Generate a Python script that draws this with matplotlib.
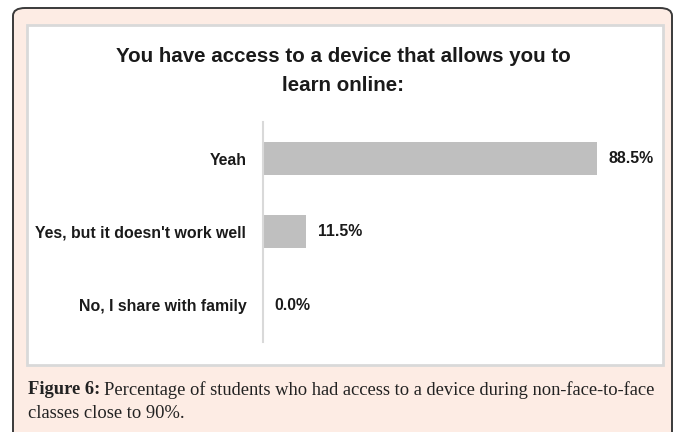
import matplotlib.pyplot as plt
from matplotlib.patches import FancyBboxPatch, Rectangle

categories = ["Yeah", "Yes, but it doesn't work well", "No, I share with family"]
percentages = [88.5, 11.5, 0.0]
value_labels = ["88.5%", "11.5%", "0.0%"]

title = "You have access to a device that allows you to\nlearn online:"
caption_head = "Figure 6:"
caption_line1 = "Percentage of students who had access to a device during non-face-to-face"
caption_line2 = "classes close to 90%."

W, H = 677, 432
fig = plt.figure(figsize=(W / 100, H / 100), dpi=100, facecolor="white")


def fx(px):
    return px / W


def fy(py):
    return 1 - py / H


# outer peach panel with rounded corners (runs off the bottom edge)
panel = FancyBboxPatch((fx(13), fy(470)), fx(672) - fx(13), fy(8) - fy(470),
                       boxstyle="round,pad=0,rounding_size=0.018",
                       transform=fig.transFigure, facecolor="#fdece4",
                       edgecolor="#3a3a3a", linewidth=1.4, zorder=0)
fig.patches.append(panel)

# white chart area
inner = Rectangle((fx(27), fy(365)), fx(663) - fx(27), fy(25) - fy(365),
                  transform=fig.transFigure, facecolor="white",
                  edgecolor="#d9d9d9", linewidth=2, zorder=1)
fig.patches.append(inner)

label_font = ["Liberation Sans", "DejaVu Sans"]
label_size = 11.4

ax = fig.add_axes([fx(263), fy(342), (334 / 88.5 * 100) / W, (342 - 122) / H])
ax.set_zorder(3)
ax.set_facecolor("none")
ypos = range(len(categories))
ax.barh(ypos, percentages, height=0.45, color="#bfbfbf", zorder=2)
ax.set_xlim(0, 100)
ax.set_ylim(2.5, -0.5)
ax.set_yticks(list(ypos))
ax.set_yticklabels(categories, family=label_font, fontweight="bold",
                   fontsize=label_size, color="#1a1a1a")
ax.tick_params(axis="y", length=0, pad=12)
ax.set_xticks([])
for s in ["top", "right", "bottom"]:
    ax.spines[s].set_visible(False)
ax.spines["left"].set_color("#d9d9d9")
ax.spines["left"].set_linewidth(1.5)

for y, v, lab in zip(ypos, percentages, value_labels):
    ax.annotate(lab, (v, y), xytext=(8, 0), textcoords="offset points",
                ha="left", va="center", family=label_font,
                fontweight="bold", fontsize=label_size, color="#1a1a1a")

fig.text(fx(343), fy(71), title, ha="center", va="center",
         family=["Liberation Sans", "DejaVu Sans"], fontweight="bold",
         fontsize=14.8, color="#1a1a1a", linespacing=1.7, zorder=4)

# caption below the chart
cap_font = ["Liberation Serif", "DejaVu Serif"]
cap_size = 13.3
t = fig.text(fx(28), fy(390), caption_head, ha="left", va="center",
             family=cap_font, fontweight="bold", fontsize=cap_size,
             color="#222222", zorder=4)
fig.canvas.draw()
bb = t.get_window_extent()
fig.text(bb.x1 / W + fx(4), fy(390), caption_line1, ha="left", va="center",
         family=cap_font, fontsize=cap_size, color="#222222", zorder=4)
fig.text(fx(28), fy(413), caption_line2, ha="left", va="center",
         family=cap_font, fontsize=cap_size, color="#222222", zorder=4)

fig.savefig("out.png", dpi=100, facecolor="white")
